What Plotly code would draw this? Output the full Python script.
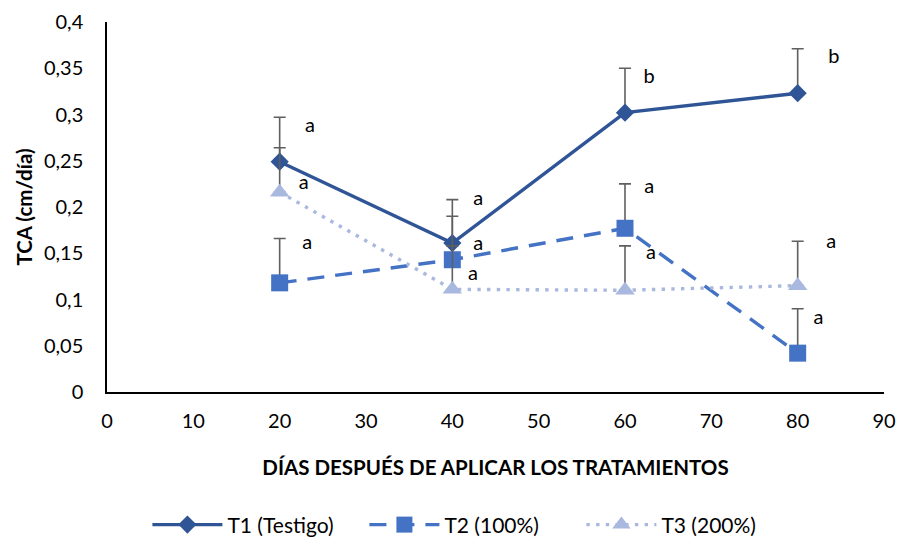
import plotly.graph_objects as go

dias = [20, 40, 60, 80]
t1 = [0.249, 0.161, 0.302, 0.323]
t1_err = [0.048, 0.047, 0.048, 0.048]
t2 = [0.118, 0.143, 0.177, 0.042]
t2_err = [0.048, 0.047, 0.048, 0.048]
t3 = [0.216, 0.111, 0.110, 0.115]
t3_err = [0.048, 0.047, 0.048, 0.048]

label_x = [23.5, 22.8, 23.2, 43.0, 43.0, 42.4, 62.8, 62.8, 63.0, 84.2, 83.9, 82.4]
label_y = [0.286, 0.225, 0.160, 0.208, 0.159, 0.127, 0.339, 0.221, 0.149, 0.361, 0.161, 0.079]
label_txt = ["a", "a", "a", "a", "a", "a", "b", "a", "a", "b", "a", "a"]

FONT = "Lato"
err_style = dict(type="data", symmetric=False, arrayminus=[0, 0, 0, 0],
                 color="#5f5f5f", thickness=1.6, width=6)

fig = go.Figure()
fig.add_trace(go.Scatter(
    x=dias, y=t1, name="T1 (Testigo)", mode="lines+markers",
    line=dict(color="#2F5597", width=3.4),
    marker=dict(symbol="diamond", size=14, color="#2F5597"),
    error_y=dict(array=t1_err, **err_style)))
fig.add_trace(go.Scatter(
    x=dias, y=t2, name="T2 (100%)", mode="lines+markers",
    line=dict(color="#4472C4", width=3.4, dash="17px,11px"),
    marker=dict(symbol="square", size=17, color="#4472C4"),
    error_y=dict(array=t2_err, **err_style)))
fig.add_trace(go.Scatter(
    x=dias, y=t3, name="T3 (200%)", mode="lines+markers",
    line=dict(color="#A9B8DE", width=3.4, dash="3.4px,6.3px"),
    marker=dict(symbol="triangle-up", size=17, color="#A9B8DE"),
    error_y=dict(array=t3_err, **err_style)))

fig.add_trace(go.Scatter(
    x=label_x, y=label_y, text=label_txt, mode="text", showlegend=False,
    textfont=dict(family=FONT, size=20, color="#000000"), hoverinfo="skip"))

fig.update_layout(
    width=904, height=544,
    margin=dict(l=107, r=20, t=22, b=152, autoexpand=False),
    paper_bgcolor="white", plot_bgcolor="white",
    separators=", ",
    font=dict(family=FONT, size=20, color="#000000"),
    showlegend=True,
    legend=dict(orientation="h", x=0.052, xanchor="left",
                yref="container", y=0.035, yanchor="middle",
                font=dict(family=FONT, size=21, color="#000000"),
                itemwidth=70, entrywidth=132, entrywidthmode="pixels", tracegroupgap=0),
    xaxis=dict(range=[0, 90], dtick=10, tick0=0, showgrid=False, zeroline=False,
               showline=True, linecolor="#000000", linewidth=1.5, ticks="",
               automargin=False, ticklabelstandoff=10,
               tickfont=dict(family=FONT, size=20, color="#000000"),
               title=dict(text="<b>DÍAS DESPUÉS DE APLICAR LOS TRATAMIENTOS</b>",
                          font=dict(family=FONT, size=20.5, color="#000000"), standoff=30)),
    yaxis=dict(range=[0, 0.4], dtick=0.05, tick0=0, showgrid=False, zeroline=False,
               showline=True, linecolor="#000000", linewidth=1.5, ticks="",
               automargin=False, ticklabelstandoff=18,
               tickfont=dict(family=FONT, size=20, color="#000000"),
               title=dict(text="<b>TCA (cm/día)</b>",
                          font=dict(family=FONT, size=20.5, color="#000000"), standoff=6)),
)

fig.write_html("out.html", config={"displayModeBar": False},
               post_script="document.body.style.margin='0';")
